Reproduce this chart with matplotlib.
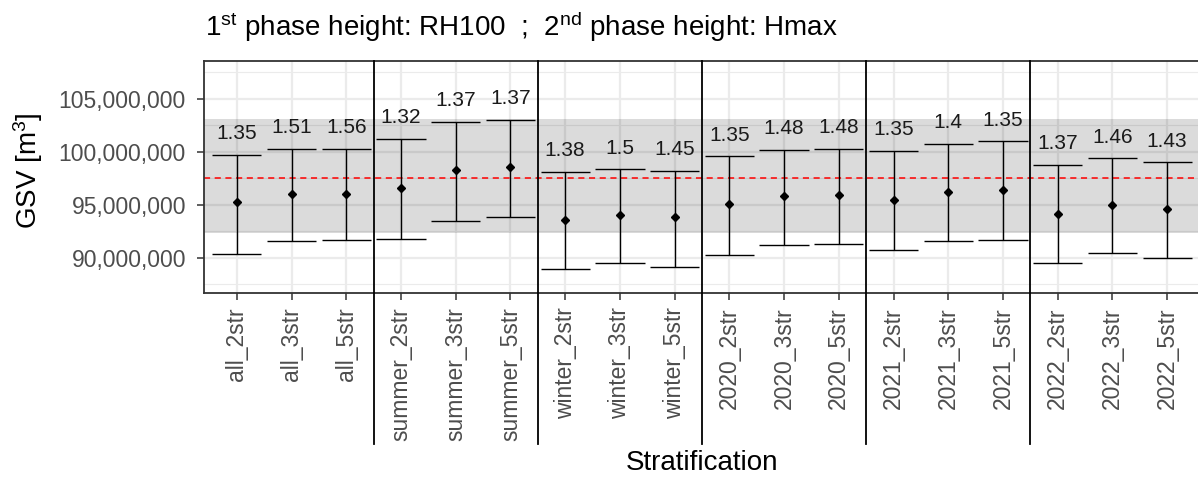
import matplotlib
matplotlib.use("Agg")
import matplotlib.pyplot as plt
from matplotlib.ticker import FuncFormatter, MultipleLocator

plt.rcParams['font.family'] = ['Liberation Sans', 'DejaVu Sans']
plt.rcParams['mathtext.fontset'] = 'custom'
plt.rcParams['mathtext.rm'] = 'Liberation Sans'
plt.rcParams['mathtext.it'] = 'Liberation Sans'

# ---- data ----
categories = ["all_2str", "all_3str", "all_5str",
              "summer_2str", "summer_3str", "summer_5str",
              "winter_2str", "winter_3str", "winter_5str",
              "2020_2str", "2020_3str", "2020_5str",
              "2021_2str", "2021_3str", "2021_5str",
              "2022_2str", "2022_3str", "2022_5str"]
estimate = [95.22, 96.01, 96.01,
            96.58, 98.30, 98.52,
            93.58, 94.06, 93.84,
            95.09, 95.78, 95.88,
            95.41, 96.23, 96.35,
            94.15, 95.00, 94.62]
upper = [99.69, 100.25, 100.25,
         101.20, 102.80, 103.02,
         98.08, 98.34, 98.21,
         99.57, 100.19, 100.28,
         100.07, 100.73, 100.98,
         98.77, 99.38, 99.00]
lower = [90.38, 91.54, 91.63,
         91.75, 93.45, 93.83,
         88.90, 89.49, 89.11,
         90.28, 91.23, 91.32,
         90.75, 91.54, 91.66,
         89.49, 90.41, 89.93]
ratio_labels = ["1.35", "1.51", "1.56",
                "1.32", "1.37", "1.37",
                "1.38", "1.5", "1.45",
                "1.35", "1.48", "1.48",
                "1.35", "1.4", "1.35",
                "1.37", "1.46", "1.43"]
group_size = 3
reference_value = 97.49   # million m3
band_low, band_high = 92.33, 103.05

M = 1e6
W, H = 1198, 479
fig = plt.figure(figsize=(W / 100, H / 100), dpi=100)
ax = fig.add_axes([204 / W, 1 - 293.3 / H, (1200 - 204) / W, (293.3 - 61) / H])

x = list(range(1, len(categories) + 1))
ax.set_xlim(0.4, len(categories) + 0.6)
ax.set_ylim(86.64 * M, 108.56 * M)

# grid
ax.yaxis.set_major_locator(MultipleLocator(5 * M))
ax.yaxis.set_minor_locator(MultipleLocator(2.5 * M))
ax.grid(which='major', color='#EBEBEB', lw=1.6, zorder=0)
ax.grid(which='minor', axis='y', color='#EBEBEB', lw=0.8, zorder=0)
ax.set_axisbelow(True)

# shaded band and reference line
ax.axhspan(band_low * M, band_high * M, color='black', alpha=0.14, lw=0, zorder=1)
ax.axhline(reference_value * M, color='#FF0000', lw=1.1, ls=(0, (4, 3)), zorder=2)

# error bars
up = [u * M for u in upper]
lo = [l * M for l in lower]
est = [e * M for e in estimate]
ax.vlines(x, lo, up, color='black', lw=1.0, zorder=3)
ax.hlines(up, [xi - 0.45 for xi in x], [xi + 0.45 for xi in x], color='black', lw=1.0, zorder=3)
ax.hlines(lo, [xi - 0.45 for xi in x], [xi + 0.45 for xi in x], color='black', lw=1.0, zorder=3)
ax.plot(x, est, ls='none', marker='D', ms=4.5, color='black', zorder=4)

for xi, u, lab in zip(x, up, ratio_labels):
    ax.text(xi, u + 2.0 * M, lab, ha='center', va='center', fontsize=15, color='#1A1A1A', zorder=5)

# group separators
for k in range(group_size, len(categories), group_size):
    ax.axvline(k + 0.5, ymin=-0.65, ymax=1, color='black', lw=1.3, clip_on=False, zorder=6)

# ticks
ax.set_xticks(x)
ax.set_xticklabels(categories, rotation=90, ha='center', va='top')
ax.yaxis.set_major_formatter(FuncFormatter(lambda v, p: f"{v:,.0f}"))
ax.tick_params(axis='both', which='major', labelsize=16.5, labelcolor='#4D4D4D', color='#333333',
               length=5, width=1.1)
ax.tick_params(axis='y', which='major', pad=8)
ax.tick_params(axis='x', which='major', pad=5)
ax.tick_params(axis='y', which='minor', length=0)

for s in ax.spines.values():
    s.set_color('#333333')
    s.set_linewidth(1.3)

# titles
fig.text(28 / W, 1 - 171 / H, r"GSV [m$\mathregular{^3}$]", rotation=90, ha='center', va='center', fontsize=20)
fig.text(701.7 / W, 1 - 462.7 / H, "Stratification", ha='center', va='center', fontsize=20)
fig.text(205 / W, 1 - 36 / H,
         r"$\mathregular{1^{st}}$ phase height: RH100  ;  $\mathregular{2^{nd}}$ phase height: Hmax",
         ha='left', va='baseline', fontsize=20)

fig.savefig("out.png", dpi=100)
